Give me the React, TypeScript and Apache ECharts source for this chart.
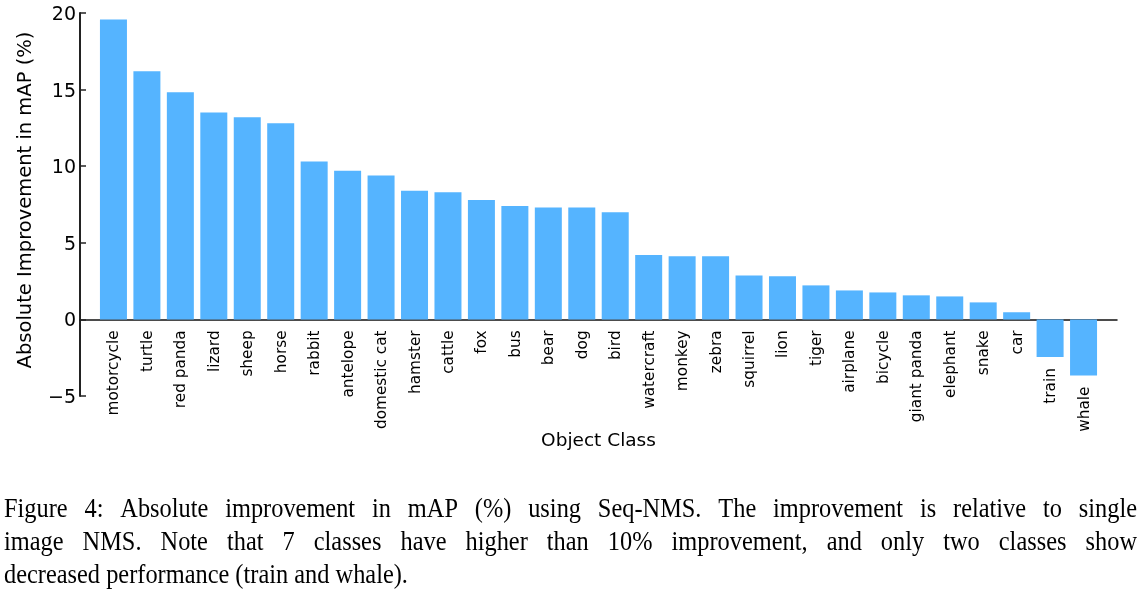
import React, { useEffect, useRef } from "react";
import * as echarts from "echarts";

const categories = [
  "motorcycle", "turtle", "red panda", "lizard", "sheep", "horse", "rabbit", "antelope",
  "domestic cat", "hamster", "cattle", "fox", "bus", "bear", "dog", "bird", "watercraft",
  "monkey", "zebra", "squirrel", "lion", "tiger", "airplane", "bicycle", "giant panda",
  "elephant", "snake", "car", "train", "whale",
];
const values = [
  19.58, 16.19, 14.82, 13.5, 13.2, 12.8, 10.3, 9.7, 9.4, 8.4, 8.3, 7.8, 7.4, 7.3, 7.3, 7.0,
  4.2, 4.13, 4.13, 2.87, 2.81, 2.22, 1.89, 1.76, 1.57, 1.5, 1.11, 0.46, -2.46, -3.66,
];
const yMin = -5;
const yMax = 20;
const yStep = 5;
const yTitle = "Absolute Improvement in mAP (%)";
const xTitle = "Object Class";
const captionLines = [
  "Figure 4: Absolute improvement in mAP (%) using Seq-NMS. The improvement is relative to single",
  "image NMS. Note that 7 classes have higher than 10% improvement, and only two classes show",
  "decreased performance (train and whale).",
];

const CAP_SIZE = 26.5;
const CAP_SX = 0.92;
const CAP_FONT = "Liberation Serif";
const CAP_LEFT = 4;
const CAP_RIGHT = 1137;
const CAP_Y0 = 508;
const CAP_GAP = 33;

const GRID_TOP = 13;
const GRID_BOTTOM = 194;
const CHART_H = 590;

export default function App() {
  const ref = useRef<HTMLDivElement>(null);
  useEffect(() => {
    document.body.style.margin = "0";
    const chart = echarts.init(ref.current!, null, { renderer: "svg" });
    const ctx = document.createElement("canvas").getContext("2d")!;
    ctx.font = `${CAP_SIZE}px "${CAP_FONT}"`;
    const graphics: any[] = [];
    captionLines.forEach((line, li) => {
      const y = CAP_Y0 + li * CAP_GAP;
      const mk = (t: string, x: number) => ({
        type: "text",
        x,
        y,
        scaleX: CAP_SX,
        scaleY: 1,
        style: {
          text: t,
          fontSize: CAP_SIZE,
          fontFamily: CAP_FONT,
          fill: "#000",
          align: "left",
          verticalAlign: "middle",
        },
      });
      if (li < captionLines.length - 1) {
        const words = line.split(" ");
        const widths = words.map((w) => ctx.measureText(w).width * CAP_SX);
        const total = widths.reduce((a, b) => a + b, 0);
        const gap = (CAP_RIGHT - CAP_LEFT - total) / (words.length - 1);
        let x = CAP_LEFT;
        words.forEach((w, i) => {
          graphics.push(mk(w, x));
          x += widths[i] + gap;
        });
      } else {
        graphics.push(mk(line, CAP_LEFT));
      }
    });

    const gridH = CHART_H - GRID_TOP - GRID_BOTTOM;
    const zeroOffset = ((0 - yMin) / (yMax - yMin)) * gridH;

    chart.setOption({
      animation: false,
      textStyle: { fontFamily: "DejaVu Sans", color: "#000" },
      grid: { left: 80, right: 23, top: GRID_TOP, bottom: GRID_BOTTOM, containLabel: false },
      xAxis: {
        type: "value",
        min: 0,
        max: categories.length + 1,
        interval: 1,
        offset: -zeroOffset,
        name: xTitle,
        nameLocation: "middle",
        nameGap: 111,
        nameTextStyle: { fontSize: 18.5, color: "#000", fontFamily: "DejaVu Sans" },
        axisLine: { show: true, onZero: false, lineStyle: { color: "#111", width: 1.5 } },
        axisTick: { show: false },
        splitLine: { show: false },
        axisLabel: { show: false },
      },
      yAxis: {
        type: "value",
        min: yMin,
        max: yMax,
        interval: yStep,
        name: yTitle,
        nameLocation: "middle",
        nameGap: 46,
        nameTextStyle: {
          fontSize: 19.5,
          color: "#000",
          fontFamily: "DejaVu Sans",
          padding: [0, 0, 0, 9],
        },
        axisLine: { show: true, lineStyle: { color: "#222", width: 2 } },
        axisTick: { show: true, inside: true, length: 6, lineStyle: { color: "#222", width: 1.5 } },
        splitLine: { show: false },
        axisLabel: {
          fontSize: 19,
          margin: 4,
          color: "#000",
          fontFamily: "DejaVu Sans",
          formatter: (v: number) => (v < 0 ? "\u2212" + Math.abs(v) : String(v)),
        },
      },
      series: [
        {
          type: "bar",
          barWidth: 27,
          itemStyle: { color: "#55b4ff" },
          label: {
            show: true,
            position: "bottom",
            distance: 11,
            rotate: 90,
            align: "right",
            verticalAlign: "middle",
            fontSize: 15.3,
            color: "#000",
            fontFamily: "DejaVu Sans",
            formatter: (p: any) => categories[p.dataIndex],
          },
          data: values.map((v, i) => [i + 1, v]),
        },
      ],
      graphic: graphics,
    });
    return () => chart.dispose();
  }, []);
  return <div ref={ref} style={{ position: "fixed", left: 0, top: 0, width: 1140, height: 590 }} />;
}
